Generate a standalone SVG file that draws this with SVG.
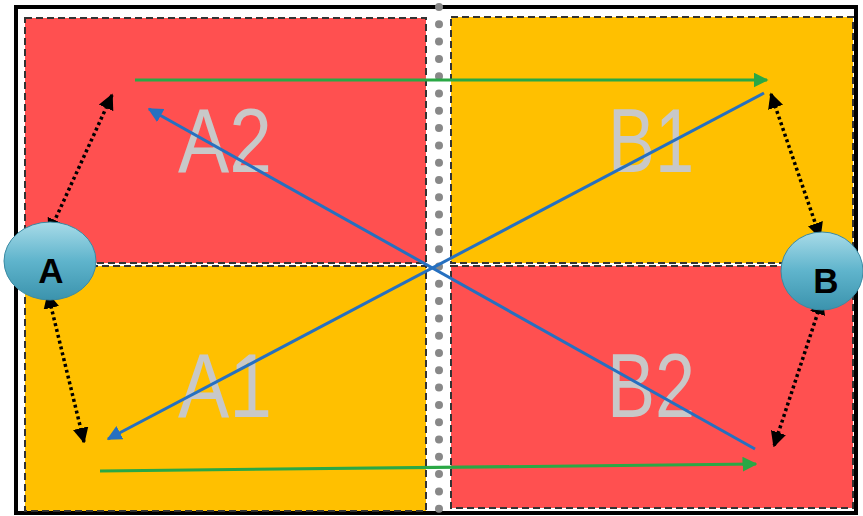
<svg xmlns="http://www.w3.org/2000/svg" width="863" height="516" viewBox="0 0 863 516">
<defs>
<linearGradient id="eg" x1="0" y1="0" x2="0" y2="1">
<stop offset="0" stop-color="#a8dbe8"/>
<stop offset="0.5" stop-color="#5fb4cc"/>
<stop offset="1" stop-color="#3b93ad"/>
</linearGradient>
<marker id="mg" viewBox="0 0 10 10" refX="9" refY="5" markerWidth="5" markerHeight="5" orient="auto" markerUnits="strokeWidth"><path d="M0,0 L10,5 L0,10 z" fill="#2aa845"/></marker>
<marker id="mb" viewBox="0 0 10 10" refX="9" refY="5" markerWidth="5" markerHeight="5" orient="auto" markerUnits="strokeWidth"><path d="M0,0 L10,5 L0,10 z" fill="#2670c0"/></marker>
<marker id="mk" viewBox="0 0 10 10" refX="9" refY="5" markerWidth="4.5" markerHeight="4.5" orient="auto-start-reverse" markerUnits="strokeWidth"><path d="M0,0 L10,5 L0,10 z" fill="#000"/></marker>
</defs>
<style>
.q{stroke:#333;stroke-width:2;stroke-dasharray:7 4}
.red{fill:#ff5050}
.yel{fill:#ffc000}
.big{font-family:"Liberation Sans",Arial,sans-serif;font-size:90px;fill:#c8c8c8;text-anchor:middle}
.lbl{font-family:"Liberation Sans",Arial,sans-serif;font-weight:bold;font-size:35px;fill:#000;text-anchor:middle}
.g{stroke:#2aa845;stroke-width:3;fill:none;marker-end:url(#mg)}
.b{stroke:#2670c0;stroke-width:3;fill:none;marker-end:url(#mb)}
.d{stroke:#000;stroke-width:3.5;fill:none;stroke-dasharray:3 3;marker-start:url(#mk);marker-end:url(#mk)}
.ell{fill:url(#eg);stroke:#3a8aa3;stroke-width:1}
</style>
<rect x="0" y="0" width="863" height="516" fill="#fff"/>
<rect x="16" y="7" width="840" height="506" fill="#fff" stroke="#000" stroke-width="4"/>
<g id="A2"><rect class="q red" x="25" y="18" width="401" height="245"/><text class="big" x="225" y="172" textLength="94" lengthAdjust="spacingAndGlyphs">A2</text></g>
<g id="A1"><rect class="q yel" x="25" y="266" width="401" height="245"/><text class="big" x="225" y="417" textLength="94" lengthAdjust="spacingAndGlyphs">A1</text></g>
<g id="B1"><rect class="q yel" x="451" y="17" width="402" height="246"/><text class="big" x="651" y="172" textLength="86" lengthAdjust="spacingAndGlyphs">B1</text></g>
<g id="B2"><rect class="q red" x="451" y="266" width="402" height="242"/><text class="big" x="651" y="417" textLength="88" lengthAdjust="spacingAndGlyphs">B2</text></g>
<line x1="439" y1="7" x2="439" y2="516" stroke="#888" stroke-width="8" stroke-linecap="round" stroke-dasharray="0 17.3"/>
<g id="connectors">
<line class="g" x1="135" y1="80" x2="767" y2="80"/>
<line class="g" x1="100" y1="471" x2="756" y2="464"/>
<line class="b" x1="764" y1="93" x2="108" y2="439"/>
<line class="b" x1="755" y1="449" x2="149" y2="109"/>
<line class="d" x1="112" y1="95" x2="49" y2="233"/>
<line class="d" x1="48" y1="294" x2="84" y2="442"/>
<line class="d" x1="771" y1="94" x2="820" y2="237"/>
<line class="d" x1="822" y1="300" x2="774" y2="446"/>
</g>
<g id="A"><ellipse class="ell" cx="50" cy="261" rx="46" ry="39"/><text class="lbl" x="51" y="283">A</text></g>
<g id="B"><ellipse class="ell" cx="822" cy="271" rx="41" ry="39"/><text class="lbl" x="826" y="293">B</text></g>
</svg>
